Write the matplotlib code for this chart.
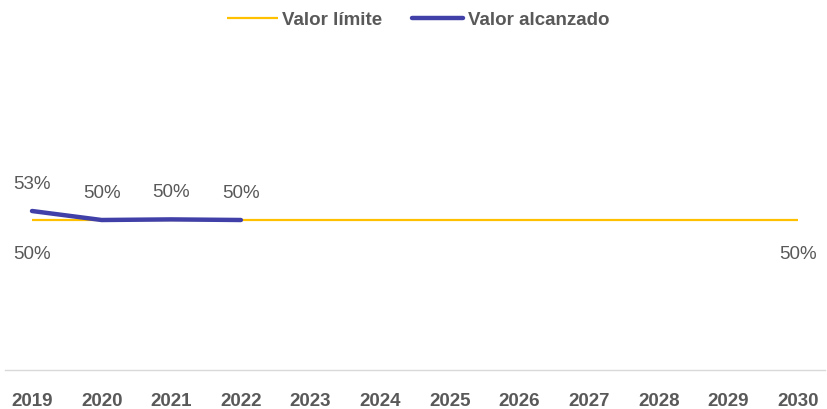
import matplotlib.pyplot as plt

years = ['2019', '2020', '2021', '2022', '2023', '2024', '2025',
         '2026', '2027', '2028', '2029', '2030']
limite = [0.50] * 12
alcanzado = [0.53, 0.50, 0.502, 0.50]

plt.rcParams['font.family'] = ['Liberation Sans', 'DejaVu Sans']
gris = '#595959'
amarillo = '#FFC000'
azul = '#4040A8'

fig = plt.figure(figsize=(8.27, 4.10), dpi=100)
# axes placed so that 0% sits on the grey base line
ax = fig.add_axes([5 / 827, 39 / 410, 820 / 827, 300 / 410])

x = list(range(len(years)))
ax.plot(x, limite, color=amarillo, lw=1.6, label='Valor límite', zorder=2,
        solid_capstyle='butt')
ax.plot(x[:len(alcanzado)], alcanzado, color=azul, lw=3.2,
        label='Valor alcanzado', zorder=3, solid_capstyle='round')

# etiquetas de datos
for i, v in enumerate(alcanzado):
    ax.annotate(f'{v:.0%}', (i, v), xytext=(0, 14), textcoords='offset points',
                ha='center', va='bottom', fontsize=13.5, color=gris)
for i in (0, len(years) - 1):
    ax.annotate(f'{limite[i]:.0%}', (i, limite[i]), xytext=(0, -18),
                textcoords='offset points', ha='center', va='top',
                fontsize=13.5, color=gris)

ax.set_xlim(-27 / 69.64, 11 + 27 / 69.64)
ax.set_ylim(0, 1)
ax.set_xticks(x)
ax.set_xticklabels(years, fontsize=13.5, fontweight='bold', color=gris)
ax.tick_params(axis='x', length=0, pad=16)
ax.set_yticks([])
for s in ['top', 'right', 'left']:
    ax.spines[s].set_visible(False)
ax.spines['bottom'].set_color('#D9D9D9')
ax.spines['bottom'].set_linewidth(1)

leg = fig.legend(loc='upper center', bbox_to_anchor=(418 / 827, 1.012), ncol=2,
                 frameon=False, handlelength=2.7,
                 handletextpad=0.25, columnspacing=1.6,
                 prop={'weight': 'bold', 'size': 13.5})
for t in leg.get_texts():
    t.set_color(gris)

fig.savefig('out.png', dpi=100)
